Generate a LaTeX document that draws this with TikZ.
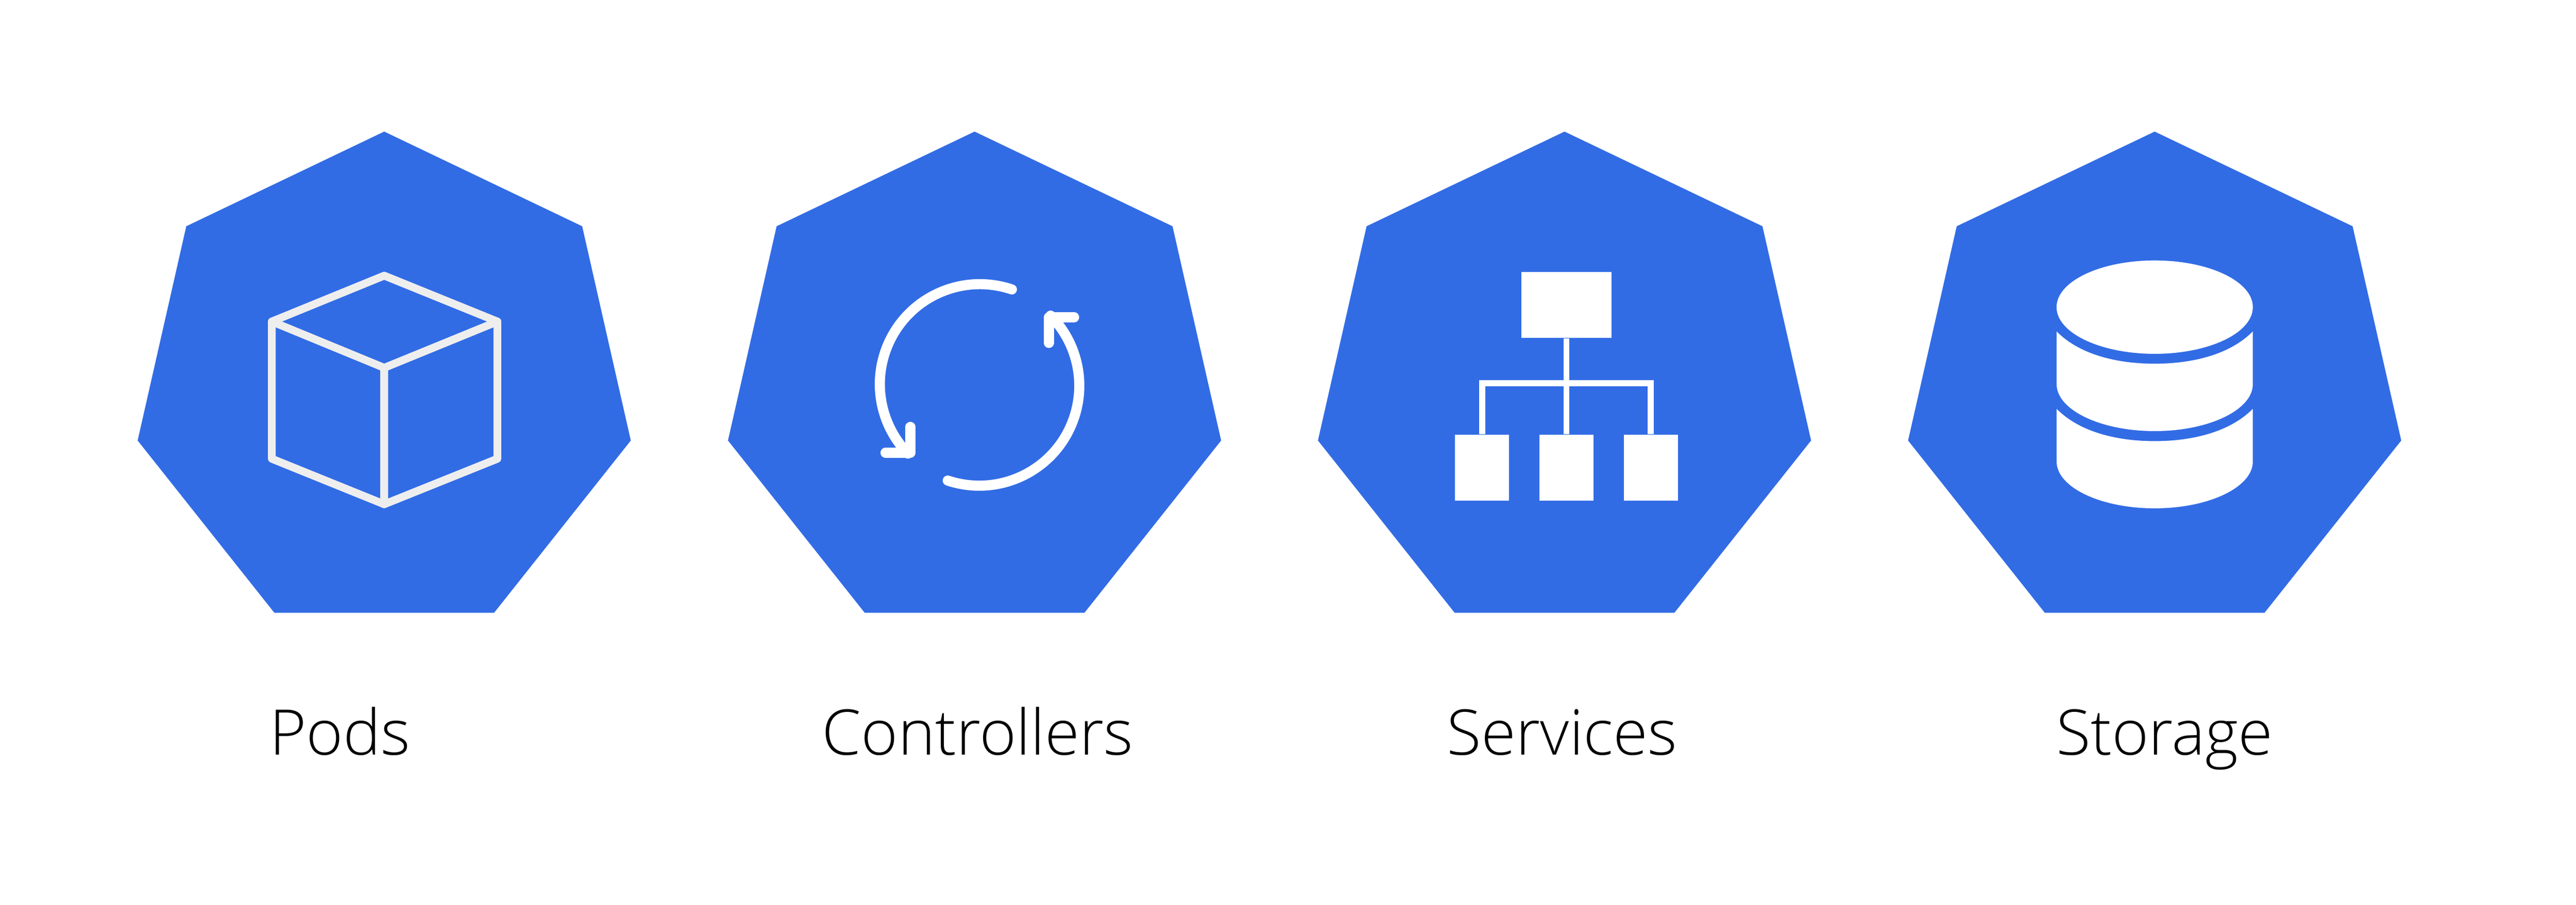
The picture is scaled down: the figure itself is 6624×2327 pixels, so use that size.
\documentclass[tikz,border=0pt]{standalone}
\usepackage{fontspec}
\setmainfont{Open Sans}[UprightFont=* Light]
\definecolor{kblue}{HTML}{326CE5}
\definecolor{cubeline}{HTML}{EEEEEE}
\newcommand{\heptagonat}[1]{\fill[kblue,shift={(#1,0)}] (0,338.5)--(509,582)--(634,1133)--(282.5,1576)--(-282.5,1576)--(-634,1133)--(-509,582)--cycle;}
\tikzset{
  cubestroke/.style={draw=cubeline,line width=0.2cm,line join=round,line cap=round},
  looparrow/.style={draw=white,line width=0.26cm,line cap=round,line join=round},
  lab/.style={anchor=base,inner sep=0pt,font=\fontsize{46pt}{50pt}\selectfont,text=black},
  rootbox/.style={fill=white,draw=none,inner sep=0pt,minimum width=2.32cm,minimum height=1.70cm},
  childbox/.style={fill=white,draw=none,inner sep=0pt,minimum width=1.39cm,minimum height=1.705cm},
  treeline/.style={draw=white,line width=0.156cm,line join=miter},
}
\begin{document}
\begin{tikzpicture}[x=0.01cm,y=0.01cm]
\useasboundingbox (0,0) rectangle (6624,2327);
\fill[white] (0,0) rectangle (6624,2327);
\begin{scope}[shift={(0,2327)},yscale=-1]
\heptagonat{988}
\heptagonat{2506}
\heptagonat{4023}
\heptagonat{5540.5}
% cube
\draw[cubestroke] (988,709)--(1279,827)--(1279,1180)--(988,1297)--(699,1180)--(699,827)--cycle;
\draw[cubestroke] (699,827)--(988,946)--(1279,827) (988,946)--(988,1297);
% loop arrows
\coordinate (loopa) at (2602,744.5);
\coordinate (tipa) at (2341,1164.5);
\coordinate (loopb) at (2437,1236);
\coordinate (tipb) at (2697,816);
\draw[looparrow] (loopa) arc[start angle=-71.3,end angle=-224,radius=2.57cm];
\draw[looparrow] (2341,1098)--(tipa)--(2277,1164.5);
\draw[looparrow] (loopb) arc[start angle=108.4,end angle=-44.5,radius=2.57cm];
\draw[looparrow] (2697,882)--(tipb)--(2762,816);
% tree
\node[rootbox] (sroot) at (4028,784) {};
\node[childbox] (sa) at (3811.3,1203) {};
\node[childbox] (sb) at (4028,1203) {};
\node[childbox] (sc) at (4245,1203) {};
\coordinate (bar) at (4028,986);
\draw[treeline] (sroot.south)--(sb.north);
\draw[treeline] (sa.north)--(sa.north |- bar)--(sc.north |- bar)--(sc.north);
% storage
\fill[white] (5540.6,790) ellipse[x radius=2.522cm,y radius=1.2cm];
\fill[white] (5288.4,852.5) .. controls (5350,915) and (5450,935.5) .. (5540.6,935.5)
  .. controls (5631,935.5) and (5731,915) .. (5792.9,852.5) -- (5792.9,988)
  .. controls (5792.9,1054) and (5680,1108.8) .. (5540.6,1108.8)
  .. controls (5401,1108.8) and (5288.4,1054) .. (5288.4,988) -- cycle;
\fill[white] (5288.4,1051.6) .. controls (5350,1114) and (5450,1134.6) .. (5540.6,1134.6)
  .. controls (5631,1134.6) and (5731,1114) .. (5792.9,1051.6) -- (5792.9,1187)
  .. controls (5792.9,1253) and (5680,1307.4) .. (5540.6,1307.4)
  .. controls (5401,1307.4) and (5288.4,1253) .. (5288.4,1187) -- cycle;
% labels
\node[lab] (lpods) at (874,1941.7) {Pods};
\node[lab] (lctrl) at (2514,1941.7) {Controllers};
\node[lab] (lserv) at (4017,1941.7) {Services};
\node[lab] (lstor) at (5566,1941.7) {Storage};
\end{scope}
\end{tikzpicture}
\end{document}
